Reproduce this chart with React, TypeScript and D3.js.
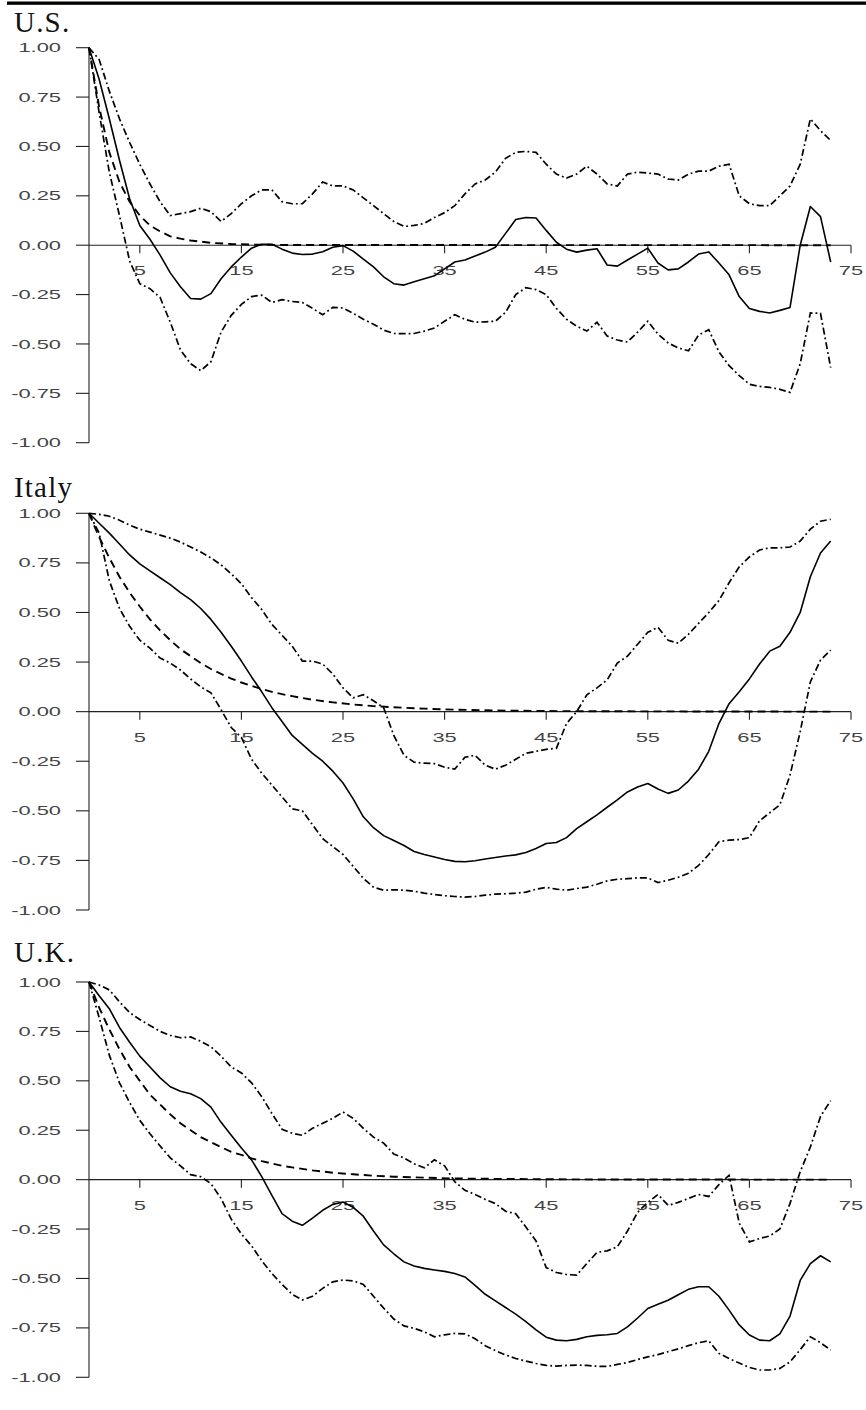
import React from "react";
import * as d3 from "d3";

type Pt = [number, number];

// lag / autocorrelation pairs
const panelNames = ["U.S.", "Italy", "U.K."];
const xTicks = [5, 15, 25, 35, 45, 55, 65, 75];
const yTicks = [1, 0.75, 0.5, 0.25, 0, -0.25, -0.5, -0.75, -1];

const usAcf: Pt[] = [[0,1],[1,0.84],[2,0.64],[3,0.43],[4,0.235],[5,0.1],[6,0.03],[7,-0.05],[8,-0.14],[9,-0.21],[10,-0.27],[11,-0.273],[12,-0.245],[13,-0.17],[14,-0.11],[15,-0.06],[16,-0.015],[17,0.005],[18,0.005],[19,-0.02],[20,-0.04],[21,-0.047],[22,-0.045],[23,-0.033],[24,-0.01],[25,-0.002],[26,-0.03],[27,-0.07],[28,-0.11],[29,-0.16],[30,-0.195],[31,-0.202],[32,-0.185],[33,-0.17],[34,-0.155],[35,-0.12],[36,-0.085],[37,-0.075],[38,-0.055],[39,-0.035],[40,-0.01],[41,0.06],[42,0.13],[43,0.14],[44,0.138],[45,0.075],[46,0.015],[47,-0.02],[48,-0.035],[49,-0.025],[50,-0.018],[51,-0.1],[52,-0.106],[53,-0.075],[54,-0.045],[55,-0.015],[56,-0.09],[57,-0.125],[58,-0.12],[59,-0.085],[60,-0.045],[61,-0.034],[62,-0.09],[63,-0.15],[64,-0.26],[65,-0.32],[66,-0.335],[67,-0.343],[68,-0.33],[69,-0.315],[70,0.0],[71,0.196],[72,0.145],[73,-0.085]];
const usUpper: Pt[] = [[0,1],[1,0.94],[2,0.78],[3,0.64],[4,0.52],[5,0.41],[6,0.31],[7,0.22],[8,0.15],[9,0.16],[10,0.17],[11,0.187],[12,0.17],[13,0.12],[14,0.16],[15,0.21],[16,0.25],[17,0.28],[18,0.28],[19,0.22],[20,0.21],[21,0.21],[22,0.26],[23,0.32],[24,0.3],[25,0.3],[26,0.28],[27,0.24],[28,0.2],[29,0.16],[30,0.12],[31,0.095],[32,0.1],[33,0.11],[34,0.14],[35,0.165],[36,0.2],[37,0.26],[38,0.31],[39,0.33],[40,0.37],[41,0.44],[42,0.47],[43,0.475],[44,0.47],[45,0.41],[46,0.36],[47,0.34],[48,0.36],[49,0.4],[50,0.36],[51,0.31],[52,0.3],[53,0.36],[54,0.37],[55,0.365],[56,0.36],[57,0.335],[58,0.33],[59,0.36],[60,0.375],[61,0.375],[62,0.4],[63,0.41],[64,0.25],[65,0.21],[66,0.2],[67,0.2],[68,0.25],[69,0.3],[70,0.41],[71,0.64],[72,0.58],[73,0.53]];
const usLower: Pt[] = [[0,1],[1,0.67],[2,0.37],[3,0.15],[4,-0.08],[5,-0.195],[6,-0.22],[7,-0.265],[8,-0.39],[9,-0.53],[10,-0.6],[11,-0.635],[12,-0.59],[13,-0.44],[14,-0.355],[15,-0.3],[16,-0.26],[17,-0.253],[18,-0.29],[19,-0.276],[20,-0.285],[21,-0.29],[22,-0.32],[23,-0.352],[24,-0.315],[25,-0.318],[26,-0.345],[27,-0.375],[28,-0.4],[29,-0.43],[30,-0.447],[31,-0.448],[32,-0.447],[33,-0.435],[34,-0.419],[35,-0.385],[36,-0.352],[37,-0.375],[38,-0.39],[39,-0.388],[40,-0.385],[41,-0.34],[42,-0.25],[43,-0.215],[44,-0.225],[45,-0.25],[46,-0.32],[47,-0.375],[48,-0.41],[49,-0.435],[50,-0.39],[51,-0.46],[52,-0.48],[53,-0.49],[54,-0.44],[55,-0.385],[56,-0.45],[57,-0.495],[58,-0.52],[59,-0.535],[60,-0.455],[61,-0.428],[62,-0.54],[63,-0.61],[64,-0.66],[65,-0.704],[66,-0.715],[67,-0.72],[68,-0.73],[69,-0.745],[70,-0.6],[71,-0.343],[72,-0.345],[73,-0.62]];
const usRef: Pt[] = [[0,1],[1,0.7],[2,0.47],[3,0.32],[4,0.22],[5,0.15],[6,0.1],[7,0.07],[8,0.045],[9,0.033],[10,0.024],[12,0.012],[14,0.006],[16,0.003],[20,0.001],[73,0]];

const itAcf: Pt[] = [[0,1],[1,0.95],[2,0.9],[3,0.845],[4,0.79],[5,0.745],[6,0.71],[7,0.675],[8,0.64],[9,0.6],[10,0.565],[11,0.52],[12,0.465],[13,0.4],[14,0.33],[15,0.255],[16,0.175],[17,0.1],[18,0.02],[19,-0.05],[20,-0.12],[21,-0.165],[22,-0.21],[23,-0.25],[24,-0.3],[25,-0.36],[26,-0.44],[27,-0.53],[28,-0.585],[29,-0.625],[30,-0.65],[31,-0.675],[32,-0.705],[33,-0.72],[34,-0.733],[35,-0.745],[36,-0.755],[37,-0.757],[38,-0.752],[39,-0.743],[40,-0.735],[41,-0.728],[42,-0.722],[43,-0.71],[44,-0.69],[45,-0.665],[46,-0.66],[47,-0.635],[48,-0.59],[49,-0.555],[50,-0.52],[51,-0.482],[52,-0.445],[53,-0.405],[54,-0.38],[55,-0.362],[56,-0.39],[57,-0.412],[58,-0.395],[59,-0.35],[60,-0.29],[61,-0.2],[62,-0.06],[63,0.04],[64,0.1],[65,0.165],[66,0.24],[67,0.305],[68,0.33],[69,0.4],[70,0.5],[71,0.68],[72,0.8],[73,0.86]];
const itUpper: Pt[] = [[0,1],[1,0.995],[2,0.985],[3,0.965],[4,0.94],[5,0.92],[6,0.905],[7,0.89],[8,0.875],[9,0.855],[10,0.83],[11,0.805],[12,0.775],[13,0.74],[14,0.695],[15,0.645],[16,0.575],[17,0.515],[18,0.44],[19,0.385],[20,0.33],[21,0.255],[22,0.255],[23,0.24],[24,0.19],[25,0.12],[26,0.07],[27,0.085],[28,0.055],[29,0.02],[30,-0.12],[31,-0.22],[32,-0.255],[33,-0.26],[34,-0.262],[35,-0.28],[36,-0.29],[37,-0.23],[38,-0.22],[39,-0.27],[40,-0.29],[41,-0.27],[42,-0.24],[43,-0.21],[44,-0.2],[45,-0.19],[46,-0.185],[47,-0.06],[48,0.0],[49,0.085],[50,0.12],[51,0.16],[52,0.245],[53,0.28],[54,0.34],[55,0.4],[56,0.425],[57,0.36],[58,0.345],[59,0.39],[60,0.445],[61,0.5],[62,0.56],[63,0.65],[64,0.73],[65,0.78],[66,0.815],[67,0.826],[68,0.826],[69,0.83],[70,0.86],[71,0.92],[72,0.96],[73,0.97]];
const itLower: Pt[] = [[0,1],[1,0.9],[2,0.66],[3,0.52],[4,0.43],[5,0.36],[6,0.32],[7,0.27],[8,0.245],[9,0.21],[10,0.165],[11,0.125],[12,0.095],[13,0.01],[14,-0.08],[15,-0.13],[16,-0.24],[17,-0.31],[18,-0.37],[19,-0.43],[20,-0.49],[21,-0.5],[22,-0.57],[23,-0.64],[24,-0.68],[25,-0.72],[26,-0.78],[27,-0.84],[28,-0.885],[29,-0.9],[30,-0.898],[31,-0.9],[32,-0.905],[33,-0.915],[34,-0.922],[35,-0.928],[36,-0.932],[37,-0.935],[38,-0.932],[39,-0.925],[40,-0.92],[41,-0.918],[42,-0.915],[43,-0.91],[44,-0.895],[45,-0.886],[46,-0.895],[47,-0.9],[48,-0.892],[49,-0.885],[50,-0.87],[51,-0.853],[52,-0.845],[53,-0.842],[54,-0.838],[55,-0.838],[56,-0.862],[57,-0.85],[58,-0.835],[59,-0.815],[60,-0.775],[61,-0.72],[62,-0.656],[63,-0.648],[64,-0.645],[65,-0.635],[66,-0.55],[67,-0.51],[68,-0.47],[69,-0.32],[70,-0.1],[71,0.15],[72,0.26],[73,0.31]];
const itRef: Pt[] = [[0,1],[1,0.88],[2,0.775],[3,0.68],[4,0.6],[5,0.53],[6,0.465],[7,0.41],[8,0.36],[9,0.315],[10,0.28],[11,0.245],[12,0.215],[13,0.19],[14,0.167],[15,0.147],[16,0.13],[17,0.114],[18,0.1],[19,0.088],[20,0.078],[22,0.06],[24,0.047],[26,0.036],[28,0.028],[30,0.022],[33,0.015],[36,0.01],[40,0.006],[45,0.003],[50,0.002],[60,0.001],[73,0]];

const ukAcf: Pt[] = [[0,1],[1,0.93],[2,0.865],[3,0.77],[4,0.695],[5,0.625],[6,0.57],[7,0.515],[8,0.47],[9,0.447],[10,0.435],[11,0.41],[12,0.367],[13,0.29],[14,0.225],[15,0.16],[16,0.1],[17,0.015],[18,-0.08],[19,-0.172],[20,-0.21],[21,-0.231],[22,-0.195],[23,-0.155],[24,-0.125],[25,-0.113],[26,-0.14],[27,-0.185],[28,-0.26],[29,-0.33],[30,-0.375],[31,-0.416],[32,-0.437],[33,-0.449],[34,-0.457],[35,-0.464],[36,-0.475],[37,-0.492],[38,-0.535],[39,-0.58],[40,-0.613],[41,-0.647],[42,-0.68],[43,-0.718],[44,-0.76],[45,-0.797],[46,-0.812],[47,-0.815],[48,-0.808],[49,-0.795],[50,-0.788],[51,-0.785],[52,-0.778],[53,-0.745],[54,-0.7],[55,-0.652],[56,-0.63],[57,-0.61],[58,-0.582],[59,-0.555],[60,-0.542],[61,-0.542],[62,-0.59],[63,-0.66],[64,-0.735],[65,-0.786],[66,-0.812],[67,-0.815],[68,-0.78],[69,-0.69],[70,-0.51],[71,-0.425],[72,-0.385],[73,-0.416]];
const ukUpper: Pt[] = [[0,1],[1,0.985],[2,0.96],[3,0.9],[4,0.845],[5,0.81],[6,0.78],[7,0.75],[8,0.73],[9,0.718],[10,0.722],[11,0.7],[12,0.672],[13,0.625],[14,0.57],[15,0.54],[16,0.49],[17,0.42],[18,0.335],[19,0.255],[20,0.235],[21,0.224],[22,0.26],[23,0.285],[24,0.31],[25,0.342],[26,0.31],[27,0.26],[28,0.215],[29,0.185],[30,0.13],[31,0.11],[32,0.08],[33,0.06],[34,0.1],[35,0.07],[36,-0.01],[37,-0.054],[38,-0.075],[39,-0.1],[40,-0.121],[41,-0.16],[42,-0.172],[43,-0.24],[44,-0.31],[45,-0.445],[46,-0.47],[47,-0.48],[48,-0.483],[49,-0.424],[50,-0.368],[51,-0.36],[52,-0.34],[53,-0.26],[54,-0.165],[55,-0.115],[56,-0.075],[57,-0.13],[58,-0.115],[59,-0.095],[60,-0.075],[61,-0.085],[62,-0.025],[63,0.022],[64,-0.22],[65,-0.315],[66,-0.298],[67,-0.285],[68,-0.25],[69,-0.12],[70,0.04],[71,0.165],[72,0.32],[73,0.4]];
const ukLower: Pt[] = [[0,1],[1,0.82],[2,0.63],[3,0.49],[4,0.39],[5,0.3],[6,0.232],[7,0.17],[8,0.11],[9,0.07],[10,0.025],[11,0.015],[12,-0.02],[13,-0.095],[14,-0.2],[15,-0.275],[16,-0.335],[17,-0.41],[18,-0.475],[19,-0.53],[20,-0.58],[21,-0.609],[22,-0.59],[23,-0.55],[24,-0.517],[25,-0.508],[26,-0.512],[27,-0.53],[28,-0.59],[29,-0.65],[30,-0.705],[31,-0.74],[32,-0.752],[33,-0.77],[34,-0.795],[35,-0.785],[36,-0.778],[37,-0.78],[38,-0.805],[39,-0.84],[40,-0.865],[41,-0.887],[42,-0.905],[43,-0.918],[44,-0.93],[45,-0.94],[46,-0.943],[47,-0.94],[48,-0.938],[49,-0.94],[50,-0.944],[51,-0.945],[52,-0.935],[53,-0.925],[54,-0.91],[55,-0.897],[56,-0.885],[57,-0.87],[58,-0.856],[59,-0.84],[60,-0.825],[61,-0.815],[62,-0.879],[63,-0.905],[64,-0.928],[65,-0.95],[66,-0.963],[67,-0.963],[68,-0.955],[69,-0.922],[70,-0.86],[71,-0.795],[72,-0.825],[73,-0.862]];
const ukRef: Pt[] = [[0,1],[1,0.87],[2,0.76],[3,0.66],[4,0.57],[5,0.5],[6,0.43],[7,0.38],[8,0.33],[9,0.285],[10,0.25],[11,0.215],[12,0.19],[13,0.165],[14,0.14],[15,0.125],[16,0.108],[17,0.094],[18,0.082],[19,0.07],[20,0.062],[22,0.047],[24,0.035],[26,0.027],[28,0.02],[30,0.015],[33,0.01],[36,0.006],[40,0.004],[45,0.002],[50,0.001],[73,0]];

const panels = [
  { name: panelNames[0], acf: usAcf, upper: usUpper, lower: usLower, ref: usRef, top: 47.7, bottom: 442.7, titleY: 32 },
  { name: panelNames[1], acf: itAcf, upper: itUpper, lower: itLower, ref: itRef, top: 513.3, bottom: 910, titleY: 497 },
  { name: panelNames[2], acf: ukAcf, upper: ukUpper, lower: ukLower, ref: ukRef, top: 982, bottom: 1377.3, titleY: 962 },
];

const W = 866;
const H = 1410;
const axisX = 89;
const tickFont = "'Liberation Sans', Arial, sans-serif";
const stretch = 1.75;

function Panel({ p }: { p: (typeof panels)[number] }) {
  const x = d3.scaleLinear().domain([0, 75]).range([axisX, 851]);
  const y = d3.scaleLinear().domain([-1, 1]).range([p.bottom, p.top]);
  const line = d3
    .line<Pt>()
    .x((d) => x(d[0]))
    .y((d) => y(d[1]));

  return (
    <g>
      <text
        x={14}
        y={p.titleY}
        fontFamily="'Liberation Serif', 'Times New Roman', serif"
        fontSize={29}
        letterSpacing={1.2}
        fill="#111"
      >
        {p.name}
      </text>

      {/* y axis */}
      <line x1={axisX} x2={axisX} y1={y(1)} y2={y(-1)} stroke="#222" strokeWidth={1.1} />
      {yTicks.map((t) => (
        <g key={t}>
          <line x1={axisX - 13} x2={axisX} y1={y(t)} y2={y(t)} stroke="#222" strokeWidth={1.1} />
          <text
            transform={`translate(61,${y(t) + 4.6}) scale(${stretch},1)`}
            textAnchor="end"
            fontFamily={tickFont}
            fontSize={12.5}
            fill="#444"
          >
            {t.toFixed(2)}
          </text>
        </g>
      ))}

      {/* x axis at zero */}
      <line x1={axisX} x2={x(75)} y1={y(0)} y2={y(0)} stroke="#222" strokeWidth={1.1} />
      {xTicks.map((t) => (
        <g key={t}>
          <line x1={x(t)} x2={x(t)} y1={y(0)} y2={y(0) + 8} stroke="#222" strokeWidth={1.1} />
          <text
            transform={`translate(${x(t)},${y(0) + 30}) scale(${stretch},1)`}
            textAnchor="middle"
            fontFamily={tickFont}
            fontSize={12.5}
            fill="#444"
          >
            {t}
          </text>
        </g>
      ))}

      <path d={line(p.ref) || ""} fill="none" stroke="#000" strokeWidth={1.9} strokeDasharray="8,5" />
      <path d={line(p.upper) || ""} fill="none" stroke="#000" strokeWidth={1.7} strokeDasharray="7,3,1.8,3" />
      <path d={line(p.lower) || ""} fill="none" stroke="#000" strokeWidth={1.7} strokeDasharray="7,3,1.8,3" />
      <path d={line(p.acf) || ""} fill="none" stroke="#000" strokeWidth={1.6} strokeLinejoin="round" />
    </g>
  );
}

export default function App() {
  return (
    <svg
      width={W}
      height={H}
      viewBox={`0 0 ${W} ${H}`}
      style={{ position: "absolute", left: 0, top: 0, display: "block", background: "#fff" }}
    >
      <rect x={7} y={1.5} width={W - 7} height={3.3} fill="#000" />
      {panels.map((p) => (
        <Panel key={p.name} p={p} />
      ))}
    </svg>
  );
}
